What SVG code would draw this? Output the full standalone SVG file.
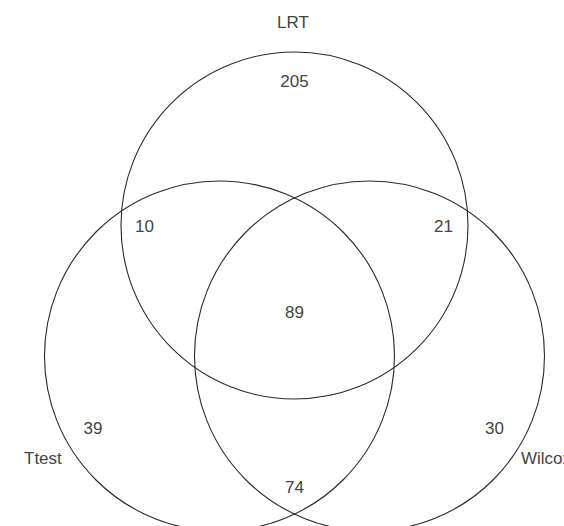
<svg xmlns="http://www.w3.org/2000/svg" width="564" height="526" viewBox="0 0 564 526">
<style>
.c{fill:none;stroke:#2a2a2a;stroke-width:1.1}
.t{font-family:"Liberation Sans",Arial,sans-serif;font-size:17px;fill:#444;text-anchor:middle}
.s{text-anchor:start}
</style>
<rect width="564" height="526" fill="#fff"/>
<g id="connectors"></g>
<g id="lrt"><circle class="c" cx="294.5" cy="225.5" r="173.5"/><text class="t" x="293" y="28">LRT</text></g>
<g id="ttest"><circle class="c" cx="219.5" cy="356" r="175"/><text class="t s" x="24" y="464">Ttest</text></g>
<g id="wilcox"><circle class="c" cx="369.5" cy="356" r="175"/><text class="t s" x="521" y="464">Wilcox</text></g>
<g id="counts">
<text class="t" x="294.5" y="87">205</text>
<text class="t" x="144.5" y="232">10</text>
<text class="t" x="443.5" y="232">21</text>
<text class="t" x="294.5" y="318">89</text>
<text class="t" x="93" y="434">39</text>
<text class="t" x="494.5" y="434">30</text>
<text class="t" x="294.5" y="493">74</text>
</g>
</svg>
